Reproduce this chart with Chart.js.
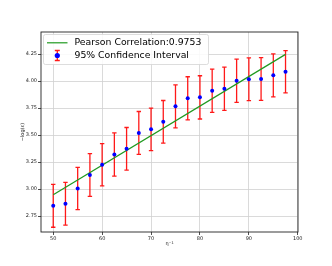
<!DOCTYPE html>
<html>
<head>
<meta charset="utf-8">
<script src="https://cdn.jsdelivr.net/npm/chart.js@4.4.1/dist/chart.umd.min.js"></script>
<style>
  html, body { margin: 0; padding: 0; background: #fff; }
  #wrap { width: 332px; height: 266px; position: relative; }
</style>
</head>
<body>
<div id="wrap"><canvas id="myChart"></canvas></div>
<script>
// data
const xVals = [50, 52.5, 55, 57.5, 60, 62.5, 65, 67.5, 70, 72.5, 75, 77.5, 80, 82.5, 85, 87.5, 90, 92.5, 95, 97.5];
const yVals = [2.845, 2.864, 3.006, 3.13, 3.225, 3.32, 3.373, 3.52, 3.553, 3.623, 3.766, 3.84, 3.849, 3.91, 3.929, 4.003, 4.016, 4.019, 4.053, 4.086];
const yErrors = [0.198, 0.198, 0.196, 0.198, 0.196, 0.2, 0.197, 0.198, 0.197, 0.197, 0.199, 0.2, 0.2, 0.2, 0.2, 0.2, 0.198, 0.198, 0.199, 0.196];
const fitX = [50, 97.5];
const fitY = [2.947, 4.247];
const xTicks = [50, 60, 70, 80, 90, 100];
const yTicks = [2.75, 3.00, 3.25, 3.50, 3.75, 4.00, 4.25];
const legendLabels = ['Pearson Correlation:0.9753', '95% Confidence Interval'];

const tickFont = { family: 'DejaVu Sans', size: 5 };

// error bars drawn through the scales, before the points
const errorBars = {
    id: 'errorBars',
    beforeDatasetsDraw(chart) {
        const { ctx, scales: { x, y }, chartArea } = chart;
        ctx.save();
        ctx.beginPath();
        ctx.rect(chartArea.left, chartArea.top, chartArea.right - chartArea.left, chartArea.bottom - chartArea.top);
        ctx.clip();
        ctx.strokeStyle = 'rgba(255, 0, 0, 0.9)';
        ctx.lineWidth = 1.3;
        xVals.forEach((xv, i) => {
            const px = x.getPixelForValue(xv);
            const top = y.getPixelForValue(yVals[i] + yErrors[i]);
            const bot = y.getPixelForValue(yVals[i] - yErrors[i]);
            ctx.beginPath();
            ctx.moveTo(px, top); ctx.lineTo(px, bot);
            ctx.moveTo(px - 2.2, top); ctx.lineTo(px + 2.2, top);
            ctx.moveTo(px - 2.2, bot); ctx.lineTo(px + 2.2, bot);
            ctx.stroke();
        });
        ctx.restore();
    }
};

// frame + legend box, like matplotlib
const frameAndLegend = {
    id: 'frameAndLegend',
    afterDraw(chart) {
        const { ctx, chartArea } = chart;
        ctx.save();
        ctx.strokeStyle = '#222';
        ctx.lineWidth = 0.9;
        ctx.strokeRect(chartArea.left, chartArea.top, chartArea.right - chartArea.left, chartArea.bottom - chartArea.top);

        // legend
        const bx = chartArea.left + 2.5, by = chartArea.top + 2.5;
        ctx.beginPath();
        ctx.roundRect(bx, by, 165, 30, 2);
        ctx.fillStyle = 'rgba(255,255,255,0.85)';
        ctx.fill();
        ctx.strokeStyle = '#d4d4d4';
        ctx.lineWidth = 0.8;
        ctx.stroke();

        ctx.strokeStyle = '#1f9a1f';
        ctx.lineWidth = 1.2;
        ctx.beginPath();
        ctx.moveTo(bx + 3.5, by + 8.3); ctx.lineTo(bx + 24, by + 8.3);
        ctx.stroke();

        const ex = bx + 13.8, ey = by + 21;
        ctx.strokeStyle = 'rgba(255, 0, 0, 0.9)';
        ctx.lineWidth = 1.3;
        ctx.beginPath();
        ctx.moveTo(ex, ey - 5); ctx.lineTo(ex, ey + 5);
        ctx.moveTo(ex - 2.5, ey - 5); ctx.lineTo(ex + 2.5, ey - 5);
        ctx.moveTo(ex - 2.5, ey + 5); ctx.lineTo(ex + 2.5, ey + 5);
        ctx.stroke();
        ctx.fillStyle = '#0000ff';
        ctx.beginPath();
        ctx.arc(ex, ey, 2.6, 0, Math.PI * 2);
        ctx.fill();

        ctx.fillStyle = '#000';
        ctx.font = '9.3px "DejaVu Sans"';
        ctx.textBaseline = 'middle';
        ctx.textAlign = 'left';
        ctx.fillText(legendLabels[0], bx + 31, by + 8.3);
        ctx.fillText(legendLabels[1], bx + 31, by + 20.7);
        ctx.restore();
    }
};

const ctx = document.getElementById('myChart').getContext('2d');
const myChart = new Chart(ctx, {
    type: 'scatter',
    data: {
        datasets: [
            {
                label: legendLabels[1],
                data: xVals.map((v, i) => ({ x: v, y: yVals[i] })),
                backgroundColor: '#0000ff',
                borderColor: '#0000ff',
                pointRadius: 2,
                borderWidth: 0,
                order: 1
            },
            {
                label: legendLabels[0],
                type: 'line',
                data: fitX.map((v, i) => ({ x: v, y: fitY[i] })),
                borderColor: '#1f9a1f',
                borderWidth: 1.2,
                pointRadius: 0,
                fill: false,
                order: 2
            }
        ]
    },
    options: {
        responsive: true,
        maintainAspectRatio: false,
        animation: false,
        layout: { padding: { left: 0, top: 32, right: 34, bottom: 0 } },
        plugins: {
            legend: { display: false },
            tooltip: { enabled: false }
        },
        scales: {
            x: {
                type: 'linear',
                min: 47.5,
                max: 100.05,
                afterFit: (scale) => { scale.height = 34; },
                afterBuildTicks: (scale) => { scale.ticks = xTicks.map(v => ({ value: v })); },
                ticks: {
                    font: tickFont,
                    color: '#222',
                    padding: 1,
                    maxRotation: 0,
                    callback: (v) => String(v)
                },
                grid: { color: '#d0d0d0', lineWidth: 0.8, tickLength: 3, tickColor: '#222' },
                border: { display: false },
                title: {
                    display: true,
                    text: 'η⁻¹',
                    font: { family: 'DejaVu Sans', size: 5 },
                    color: '#222',
                    padding: { top: 0, bottom: 19 }
                }
            },
            y: {
                min: 2.603,
                max: 4.454,
                afterFit: (scale) => { scale.width = 41; },
                afterBuildTicks: (scale) => { scale.ticks = yTicks.map(v => ({ value: v })); },
                ticks: {
                    font: tickFont,
                    color: '#222',
                    padding: 1,
                    callback: (v) => Number(v).toFixed(2)
                },
                grid: { color: '#d0d0d0', lineWidth: 0.8, tickLength: 3, tickColor: '#222' },
                border: { display: false },
                title: {
                    display: true,
                    text: '−log(ε)',
                    font: { family: 'DejaVu Sans', size: 5 },
                    color: '#222',
                    padding: { top: 19.5, bottom: 0 }
                }
            }
        }
    },
    plugins: [errorBars, frameAndLegend]
});
</script>
</body>
</html>
